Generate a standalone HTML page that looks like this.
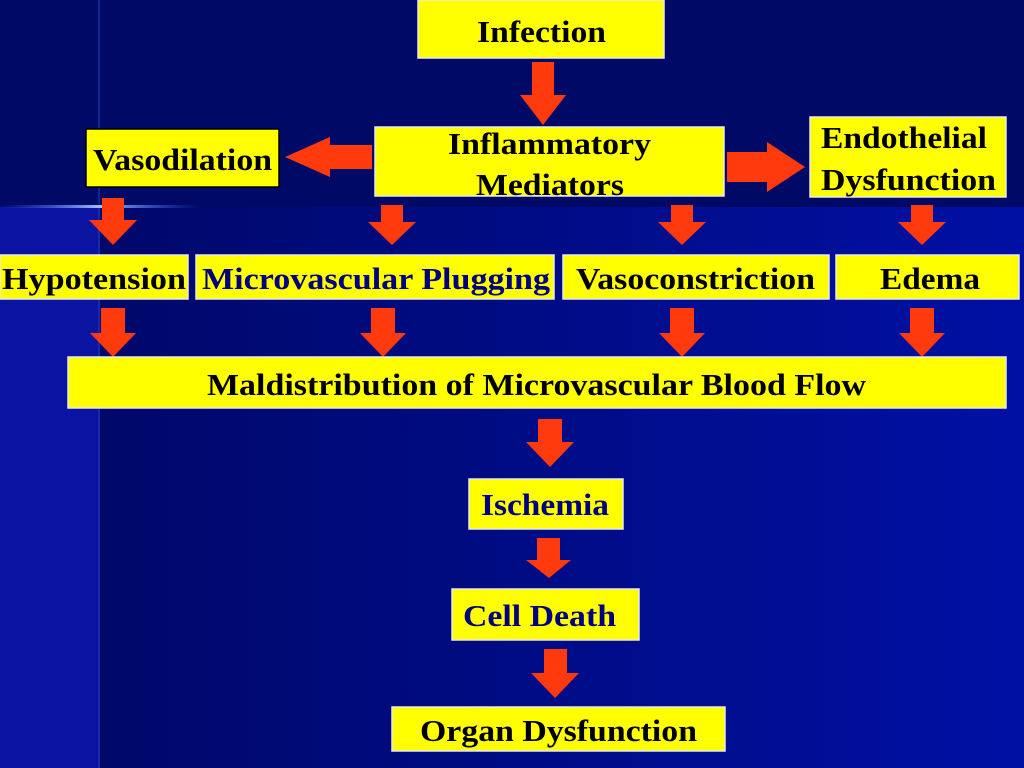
<!DOCTYPE html>
<html><head><meta charset="utf-8"><style>
html,body{margin:0;padding:0;width:1024px;height:768px;overflow:hidden;background:#000a66}
</style></head><body>
<svg width="1024" height="768" xmlns="http://www.w3.org/2000/svg" style="position:absolute;left:0;top:0">
<defs>
<linearGradient id="g" x1="0" y1="0" x2="1" y2="0">
<stop offset="0" stop-color="#00086a"/><stop offset="1" stop-color="#0010a4"/></linearGradient>
<linearGradient id="hl" x1="0" y1="0" x2="1" y2="0">
<stop offset="0" stop-color="#3060ff" stop-opacity="0"/><stop offset="0.5" stop-color="#a0c0ff"/><stop offset="1" stop-color="#3060ff" stop-opacity="0"/></linearGradient>
</defs>
<rect width="1024" height="768" fill="#000a66"/>
<rect x="0" y="207" width="100" height="561" fill="#0a14a0"/>
<rect x="100" y="207" width="924" height="561" fill="url(#g)"/>
<rect x="98" y="0" width="2" height="768" fill="#2040c0" opacity="0.5"/>
<rect x="0" y="205" width="200" height="3" fill="url(#hl)"/>
<g fill="#ff3a0c">
<polygon points="532,62 554,62 554,95 566,95 543,125 520,95 532,95"/>
<polygon points="372,145 330,145 330,137 285,157 330,177 330,169 372,169"/>
<polygon points="727,152 767,152 767,142 805,167 767,192 767,182 727,182"/>
<polygon points="102,198 124,198 124,220 137,220 113,245 89,220 102,220"/>
<polygon points="381,205 403,205 403,222 416,222 392,245 368,222 381,222"/>
<polygon points="671,205 693,205 693,222 706,222 682,245 658,222 671,222"/>
<polygon points="911,205 933,205 933,222 946,222 922,245 898,222 911,222"/>
<polygon points="101,308 125,308 125,333 136,333 113,357 90,333 101,333"/>
<polygon points="371,308 395,308 395,333 406,333 383,357 360,333 371,333"/>
<polygon points="670,308 694,308 694,333 705,333 682,357 659,333 670,333"/>
<polygon points="910,308 934,308 934,333 945,333 922,357 899,333 910,333"/>
<polygon points="538,419 562,419 562,442 574,442 550,467 526,442 538,442"/>
<polygon points="537,538 560,538 560,560 571,560 549,578 526,560 537,560"/>
<polygon points="544,649 567,649 567,673 579,673 555,698 531,673 544,673"/>
</g>
<g fill="#ffff00" stroke="#e8e8e8" stroke-width="1.5">
<rect x="418" y="0" width="246" height="58"/>
<rect x="86" y="129" width="193" height="58" stroke="#000" />
<rect x="375" y="127" width="349" height="69"/>
<rect x="810" y="117" width="196" height="80"/>
<rect x="0" y="255" width="188" height="44"/>
<rect x="196" y="255" width="358" height="44"/>
<rect x="563" y="255" width="266" height="44"/>
<rect x="836" y="255" width="183" height="44"/>
<rect x="68" y="357" width="938" height="51"/>
<rect x="469" y="479" width="154" height="50"/>
<rect x="452" y="589" width="187" height="51"/>
<rect x="392" y="707" width="333" height="44"/>
</g>
<g font-family="Liberation Serif, serif" font-weight="bold" font-size="31" fill="#000" lengthAdjust="spacingAndGlyphs">
<text x="477" y="42" textLength="129" lengthAdjust="spacingAndGlyphs">Infection</text>
<text x="93" y="170" textLength="179" lengthAdjust="spacingAndGlyphs">Vasodilation</text>
<text x="448" y="154" textLength="203" lengthAdjust="spacingAndGlyphs">Inflammatory</text>
<text x="476" y="195" textLength="148" lengthAdjust="spacingAndGlyphs">Mediators</text>
<text x="821" y="148" textLength="166" lengthAdjust="spacingAndGlyphs">Endothelial</text>
<text x="821" y="190" textLength="175" lengthAdjust="spacingAndGlyphs">Dysfunction</text>
<text x="2" y="289" textLength="184" lengthAdjust="spacingAndGlyphs">Hypotension</text>
<text x="202" y="289" textLength="348" lengthAdjust="spacingAndGlyphs" fill="#000080">Microvascular Plugging</text>
<text x="576" y="289" textLength="239" lengthAdjust="spacingAndGlyphs">Vasoconstriction</text>
<text x="880" y="289" textLength="100" lengthAdjust="spacingAndGlyphs">Edema</text>
<text x="207" y="395" textLength="659" lengthAdjust="spacingAndGlyphs">Maldistribution of Microvascular Blood Flow</text>
<text x="481" y="515" textLength="128" lengthAdjust="spacingAndGlyphs" fill="#000080">Ischemia</text>
<text x="463" y="626" textLength="153" lengthAdjust="spacingAndGlyphs" fill="#000080">Cell Death</text>
<text x="420" y="741" textLength="277" lengthAdjust="spacingAndGlyphs">Organ Dysfunction</text>
</g>
</svg>
</body></html>
